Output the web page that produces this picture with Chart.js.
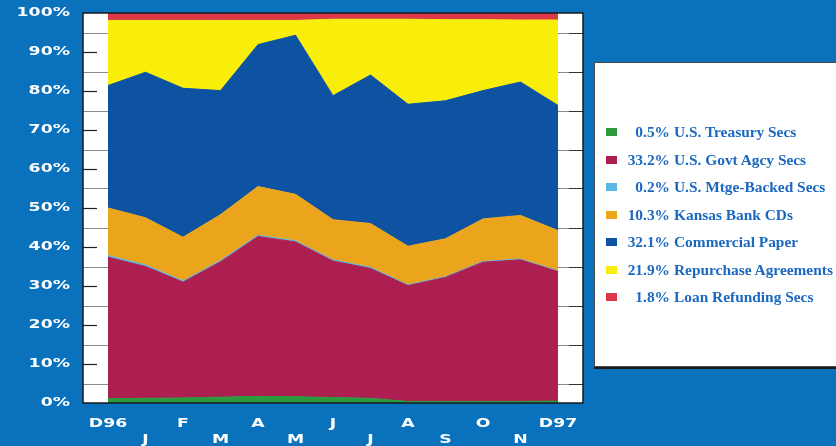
<!DOCTYPE html>
<html>
<head>
<meta charset="utf-8">
<script src="https://cdn.jsdelivr.net/npm/chart.js@4/dist/chart.umd.min.js"></script>
<style>
  html, body { margin: 0; padding: 0; }
  body { width: 836px; height: 446px; overflow: hidden; background: #0a72bc; position: relative; }
  #wrap { position: absolute; left: 0; top: 0; width: 836px; height: 446px; }
  #legend {
    position: absolute; left: 594px; top: 62px; width: 260px; height: 303px;
    background: #fff; border: 1px solid #4a4a4a; box-shadow: 0 2px 0 #1a1a1a;
    font: bold 15.4px "Liberation Serif", "Times New Roman", serif; color: #1a68c0;
  }
  .row { position: absolute; left: 0; height: 18px; width: 260px; line-height: 18px; white-space: nowrap; }
  .sw { position: absolute; left: 11px; top: 5px; width: 11px; height: 8px; }
  .num { position: absolute; right: 185px; text-align: right; }
  .name { position: absolute; left: 79px; }
</style>
</head>
<body>
<div id="wrap"><canvas id="c" width="836" height="446"></canvas></div>
<div id="legend"></div>
<script>
// Month-end portfolio mix, Dec 1996 – Dec 1997 (percent of total)
const months = ['D96', 'J', 'F', 'M', 'A', 'M', 'J', 'J', 'A', 'S', 'O', 'N', 'D97'];
const yTicks = [0, 10, 20, 30, 40, 50, 60, 70, 80, 90, 100];

const treasury   = [1.1, 1.2, 1.3, 1.5, 1.7, 1.6, 1.4, 1.2, 0.4, 0.4, 0.4, 0.4, 0.5];
const govtAgcy   = [36.3, 33.8, 29.7, 34.7, 41.0, 39.7, 35.0, 33.3, 29.7, 31.8, 35.7, 36.3, 33.2];
const mtgeBacked = [0.4, 0.4, 0.3, 0.3, 0.3, 0.3, 0.3, 0.3, 0.2, 0.2, 0.2, 0.2, 0.2];
const kansasCDs  = [12.2, 12.1, 11.2, 11.8, 12.5, 11.9, 10.3, 11.2, 9.9, 9.7, 10.9, 11.2, 10.3];
const commPaper  = [31.4, 37.3, 38.2, 31.8, 36.4, 40.8, 31.8, 38.1, 36.4, 35.4, 32.9, 34.2, 32.1];
const repos      = [16.7, 13.3, 17.4, 18.0, 6.2, 3.8, 19.6, 14.3, 21.8, 20.8, 18.2, 15.9, 21.9];
const loanRefund = [1.9, 1.9, 1.9, 1.9, 1.9, 1.9, 1.6, 1.6, 1.6, 1.7, 1.7, 1.8, 1.8];

const seriesNames = ['U.S. Treasury Secs', 'U.S. Govt Agcy Secs', 'U.S. Mtge-Backed Secs',
  'Kansas Bank CDs', 'Commercial Paper', 'Repurchase Agreements', 'Loan Refunding Secs'];
const seriesData = [treasury, govtAgcy, mtgeBacked, kansasCDs, commPaper, repos, loanRefund];
const seriesColors = ['#2b9a3c', '#ad1f50', '#5ab8e6', '#eba51c', '#0d53a2', '#f8ee0a', '#dc3848'];

const datasets = seriesData.map((vals, k) => ({
  label: seriesNames[k],
  data: vals.map((v, i) => ({ x: i, y: v })),
  backgroundColor: seriesColors[k],
  borderColor: seriesColors[k],
  borderWidth: 1,
  pointRadius: 0,
  tension: 0,
  fill: k === 0 ? 'origin' : '-1'
}));

// white plot box, side strips with tick marks, frame and axis text
const frame = {
  id: 'frame',
  beforeDatasetsDraw(chart) {
    const { ctx, chartArea: a, scales: { x, y } } = chart;
    ctx.save();
    ctx.fillStyle = '#fff';
    ctx.fillRect(a.left, a.top, a.right - a.left, a.bottom - a.top);
    const x0 = x.getPixelForValue(0), x1 = x.getPixelForValue(months.length - 1);
    for (let v = 5; v < 100; v += 10) {
      const py = Math.round(y.getPixelForValue(v)) + 0.5;
      ctx.strokeStyle = '#8a8a8a'; ctx.lineWidth = 1;
      ctx.beginPath(); ctx.moveTo(a.left, py); ctx.lineTo(x0, py); ctx.stroke();
      ctx.beginPath(); ctx.moveTo(x1, py); ctx.lineTo(a.right, py); ctx.stroke();
      ctx.strokeStyle = '#333';
      ctx.beginPath(); ctx.moveTo(a.right - 14, py); ctx.lineTo(a.right, py); ctx.stroke();
    }
    for (let v = 10; v < 100; v += 10) {
      const py = Math.round(y.getPixelForValue(v)) + 0.5;
      ctx.strokeStyle = '#222'; ctx.lineWidth = 1.2;
      ctx.beginPath(); ctx.moveTo(a.left, py); ctx.lineTo(a.left + 14, py); ctx.stroke();
    }
    ctx.restore();
  },
  afterDraw(chart) {
    const { ctx, chartArea: a, scales: { x, y } } = chart;
    ctx.save();
    ctx.strokeStyle = '#1a1a1a'; ctx.lineWidth = 1.5;
    ctx.strokeRect(a.left, a.top, a.right - a.left, a.bottom - a.top);
    ctx.fillStyle = '#fff';
    ctx.font = 'bold 13px "DejaVu Sans"';
    ctx.textBaseline = 'middle';
    const stretch = 1.33;
    yTicks.forEach(v => {
      ctx.save();
      ctx.translate(70, y.getPixelForValue(v));
      ctx.scale(stretch, 1);
      ctx.textAlign = 'right';
      ctx.fillText(v + '%', 0, 0);
      ctx.restore();
    });
    months.forEach((m, i) => {
      ctx.save();
      ctx.translate(x.getPixelForValue(i), i % 2 === 0 ? 424 : 440);
      ctx.scale(stretch, 1);
      ctx.textAlign = 'center';
      ctx.fillText(m, 0, 0);
      ctx.restore();
    });
    ctx.restore();
  }
};

new Chart(document.getElementById('c'), {
  type: 'line',
  data: { datasets },
  options: {
    responsive: false,
    devicePixelRatio: 1,
    animation: false,
    layout: { padding: { left: 83, right: 253, top: 13, bottom: 43 } },
    plugins: { legend: { display: false }, tooltip: { enabled: false } },
    scales: {
      x: { type: 'linear', display: false, min: -0.667, max: months.length - 1 + 0.667 },
      y: { display: false, stacked: true, min: 0, max: 100 }
    }
  },
  plugins: [frame]
});

// legend box: swatch, final-month share, series name
const legend = document.getElementById('legend');
seriesNames.forEach((name, k) => {
  const row = document.createElement('div');
  row.className = 'row';
  row.style.top = (60 + k * 27.5) + 'px';
  const last = seriesData[k][seriesData[k].length - 1];
  row.innerHTML = '<span class="sw" style="background:' + seriesColors[k] + '"></span>' +
    '<span class="num">' + last.toFixed(1) + '%</span>' +
    '<span class="name">' + name + '</span>';
  legend.appendChild(row);
});
</script>
</body>
</html>
